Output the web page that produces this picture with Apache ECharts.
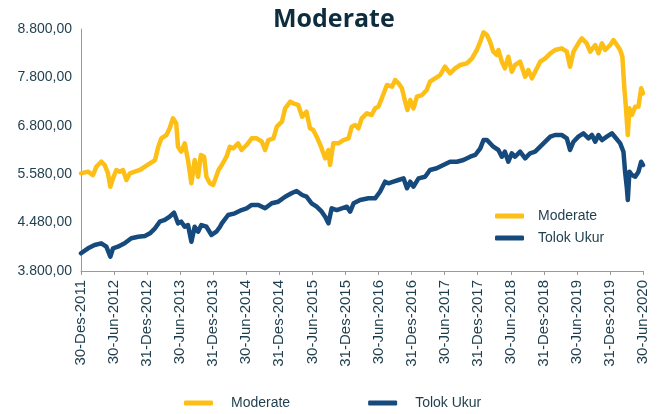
<!DOCTYPE html>
<html>
<head>
<meta charset="utf-8">
<script src="https://cdn.jsdelivr.net/npm/echarts@6/dist/echarts.min.js"></script>
<style>
html,body{margin:0;padding:0;background:#fff;}
#chart{width:659px;height:414px;}
</style>
</head>
<body>
<div id="chart"></div>
<script>
var seriesNames = ['Moderate', 'Tolok Ukur'];

var xLabels = ['30-Des-2011','30-Jun-2012','31-Des-2012','30-Jun-2013','31-Des-2013','30-Jun-2014',
  '31-Des-2014','30-Jun-2015','31-Des-2015','30-Jun-2016','31-Des-2016','30-Jun-2017',
  '31-Des-2017','30-Jun-2018','31-Des-2018','30-Jun-2019','31-Des-2019','30-Jun-2020'];

var yLabels = ['3.800,00','4.480,00','5.580,00','6.800,00','7.800,00','8.800,00'];

var modDates = ['2011-12-30','2012-02-07','2012-03-05','2012-03-24','2012-04-20','2012-05-09','2012-05-27','2012-06-09','2012-06-24','2012-07-12',
'2012-07-31','2012-08-18','2012-09-06','2012-09-25','2012-10-22','2012-11-19','2012-12-17','2013-01-14','2013-02-11','2013-03-01',
'2013-03-18','2013-04-15','2013-05-03','2013-05-21','2013-05-30','2013-06-08','2013-06-18','2013-07-06','2013-07-25','2013-08-12',
'2013-08-31','2013-09-18','2013-10-07','2013-10-22','2013-11-09','2013-11-22','2013-12-11','2013-12-29','2014-01-28','2014-02-15',
'2014-03-13','2014-03-31','2014-04-19','2014-05-16','2014-06-04','2014-07-02','2014-07-30','2014-08-27','2014-09-24','2014-10-12',
'2014-10-30','2014-11-27','2014-12-16','2015-01-13','2015-01-31','2015-02-28','2015-03-16','2015-04-13','2015-05-05','2015-05-29',
'2015-06-17','2015-07-05','2015-07-24','2015-08-17','2015-09-09','2015-09-27','2015-10-06','2015-10-24','2015-11-21','2015-12-19',
'2016-01-16','2016-02-03','2016-02-22','2016-03-11','2016-03-29','2016-04-26','2016-05-23','2016-06-11','2016-06-29','2016-07-18',
'2016-08-15','2016-09-12','2016-09-30','2016-10-18','2016-11-06','2016-11-24','2016-12-07','2016-12-22','2017-01-09','2017-01-28',
'2017-02-25','2017-03-23','2017-04-10','2017-05-08','2017-06-05','2017-07-02','2017-07-30','2017-08-27','2017-09-24','2017-10-31',
'2017-11-28','2017-12-25','2018-01-13','2018-01-31','2018-02-19','2018-03-08','2018-03-26','2018-04-14','2018-04-23','2018-05-12',
'2018-05-29','2018-06-17','2018-07-06','2018-07-24','2018-08-21','2018-09-18','2018-10-06','2018-10-25','2018-11-12','2018-12-10',
'2019-01-07','2019-02-04','2019-03-02','2019-04-08','2019-05-06','2019-05-24','2019-06-12','2019-07-09','2019-07-28','2019-08-24',
'2019-09-12','2019-10-10','2019-10-28','2019-11-16','2019-12-04','2020-01-01','2020-01-19','2020-02-07','2020-02-25','2020-03-08',
'2020-03-19','2020-03-28','2020-04-07','2020-04-16','2020-04-30','2020-05-18','2020-06-05','2020-06-20','2020-06-30'];

var modValues = [5818,5852,5783,5955,6058,5990,5818,5542,5715,5887,
5852,5887,5680,5818,5852,5887,5955,6025,6093,6368,
6542,6610,6748,6955,6988,6851,6368,6265,6438,6093,
5612,6093,5748,6197,6161,5748,5612,5577,5887,5990,
6161,6368,6335,6438,6300,6403,6542,6542,6471,6300,
6506,6542,6781,6885,7161,7298,7265,7230,6988,7091,
6748,6713,6575,6368,6128,6300,5990,6438,6438,6506,
6542,6781,6816,6748,6955,7058,7023,7161,7195,7368,
7643,7608,7746,7678,7575,7298,7126,7333,7161,7401,
7436,7539,7711,7781,7849,8021,7884,7988,8056,8091,
8194,8366,8537,8731,8676,8537,8331,8263,8366,8124,
7988,8228,7918,8056,8124,7814,7953,7781,7918,8124,
8194,8298,8366,8401,8331,8021,8331,8504,8608,8504,
8331,8469,8298,8504,8366,8469,8572,8469,8366,8228,
7575,7161,6610,7161,7023,7195,7195,7575,7471];

var tuDates = ['2011-12-30','2012-02-07','2012-03-14','2012-04-20','2012-05-18','2012-06-09','2012-06-24','2012-07-21','2012-08-27','2012-10-03',
'2012-11-10','2012-12-17','2013-01-14','2013-02-11','2013-03-09','2013-04-06','2013-05-03','2013-05-27','2013-06-18','2013-07-06',
'2013-07-25','2013-08-12','2013-08-31','2013-09-18','2013-10-07','2013-10-25','2013-11-22','2013-12-20','2014-01-16','2014-02-05',
'2014-02-15','2014-03-22','2014-04-28','2014-06-04','2014-07-02','2014-07-30','2014-09-05','2014-10-12','2014-11-18','2014-12-24',
'2015-01-31','2015-03-07','2015-04-04','2015-05-05','2015-05-29','2015-06-26','2015-07-24','2015-08-21','2015-09-09','2015-09-27',
'2015-10-15','2015-11-12','2015-12-10','2016-01-07','2016-01-25','2016-02-13','2016-03-20','2016-05-05','2016-06-11','2016-07-08',
'2016-08-05','2016-08-23','2016-09-20','2016-10-18','2016-11-15','2016-12-04','2016-12-22','2017-01-09','2017-02-06','2017-03-14',
'2017-04-10','2017-05-17','2017-06-23','2017-07-30','2017-09-06','2017-10-12','2017-11-18','2017-12-16','2018-01-13','2018-01-31',
'2018-02-19','2018-03-08','2018-03-26','2018-04-04','2018-04-23','2018-05-12','2018-05-29','2018-06-17','2018-07-06','2018-07-24',
'2018-08-21','2018-09-18','2018-10-15','2018-11-12','2018-12-10','2019-01-07','2019-02-04','2019-03-02','2019-04-08','2019-05-06',
'2019-05-24','2019-06-12','2019-07-09','2019-08-06','2019-09-03','2019-09-22','2019-10-10','2019-10-28','2019-11-16','2019-12-13',
'2020-01-10','2020-02-02','2020-02-25','2020-03-14','2020-03-23','2020-04-02','2020-04-07','2020-04-16','2020-04-30','2020-05-18',
'2020-06-05','2020-06-20','2020-06-30'];

var tuValues = [4166,4269,4337,4372,4302,4095,4269,4302,4372,4476,
4509,4523,4579,4682,4819,4854,4922,5004,4785,4819,
4715,4750,4405,4715,4612,4750,4715,4544,4612,4715,
4785,4957,4992,5060,5095,5164,5164,5095,5199,5232,
5335,5405,5453,5370,5335,5199,5128,5025,4922,4785,
5095,5060,5095,5128,5025,5199,5267,5302,5302,5438,
5645,5612,5645,5680,5715,5509,5645,5542,5715,5748,
5887,5922,5990,6058,6058,6093,6161,6197,6335,6506,
6506,6438,6368,6368,6300,6161,6265,6058,6232,6161,
6265,6128,6232,6265,6368,6471,6575,6610,6610,6542,
6300,6471,6575,6645,6542,6610,6471,6610,6506,6575,
6645,6542,6438,6265,5852,5509,5267,5852,5783,5748,
5852,6058,5990];

var Y_MIN = 3800, Y_MAX = 8800, Y_STEP = 200, Y_LABEL_STEP = 1000;

function pairs(dates, values) {
  return dates.map(function (d, i) { return [d, values[i]]; });
}

var textColor = '#1e3d4d';
var axisColor = '#9a9a9a';
var colors = ['#FDBE16', '#164A7C'];

var chart = echarts.init(document.getElementById('chart'), null, {renderer: 'canvas'});
chart.setOption({
  animation: false,
  backgroundColor: '#ffffff',
  textStyle: {fontFamily: 'Liberation Sans, Arial, sans-serif'},
  title: {
    text: 'Moderate',
    left: 268,
    top: 2,
    textStyle: {fontFamily: 'Open Sans', fontWeight: 'bold', fontSize: 25, color: '#0d2d3e'}
  },
  grid: {left: 81, right: 16, top: 29, bottom: 143, containLabel: false},
  legend: [
    {
      data: seriesNames, orient: 'vertical', left: 495, top: 209, padding: 0,
      itemWidth: 29, itemHeight: 5, itemGap: 8, icon: 'roundRect',
      textStyle: {fontSize: 14, color: textColor, padding: [0, 0, 0, 9]}
    },
    {
      data: seriesNames, orient: 'horizontal', left: 184, top: 396, padding: 0,
      itemWidth: 29, itemHeight: 5, itemGap: 78, icon: 'roundRect',
      textStyle: {fontSize: 14, color: textColor, padding: [0, 0, 0, 13]}
    }
  ],
  xAxis: [
    {
      type: 'time', min: '2011-12-30', max: '2020-06-30', show: false,
      splitLine: {show: false}
    },
    {
      type: 'category', data: xLabels, boundaryGap: false, position: 'bottom',
      axisLine: {show: true, lineStyle: {color: axisColor, width: 1}},
      axisTick: {show: true, length: 4, lineStyle: {color: axisColor}},
      axisLabel: {rotate: 90, interval: 0, fontSize: 15, color: textColor, margin: 9},
      splitLine: {show: false}
    }
  ],
  yAxis: {
    type: 'value', min: Y_MIN, max: Y_MAX, interval: Y_STEP,
    axisLine: {show: true, lineStyle: {color: axisColor, width: 1}},
    axisTick: {show: false},
    splitLine: {show: false},
    axisLabel: {
      fontSize: 14, color: textColor, margin: 9,
      formatter: function (v) {
        var k = Math.round(v - Y_MIN);
        if (k % Y_LABEL_STEP !== 0) return '';
        return yLabels[k / Y_LABEL_STEP] || '';
      }
    }
  },
  series: [
    {
      name: seriesNames[0], type: 'line', xAxisIndex: 0, showSymbol: false,
      data: pairs(modDates, modValues),
      lineStyle: {width: 4.5, color: colors[0], cap: 'round', join: 'round'},
      itemStyle: {color: colors[0]}
    },
    {
      name: seriesNames[1], type: 'line', xAxisIndex: 0, showSymbol: false,
      data: pairs(tuDates, tuValues),
      lineStyle: {width: 4.5, color: colors[1], cap: 'round', join: 'round'},
      itemStyle: {color: colors[1]}
    }
  ]
});
</script>
</body>
</html>
